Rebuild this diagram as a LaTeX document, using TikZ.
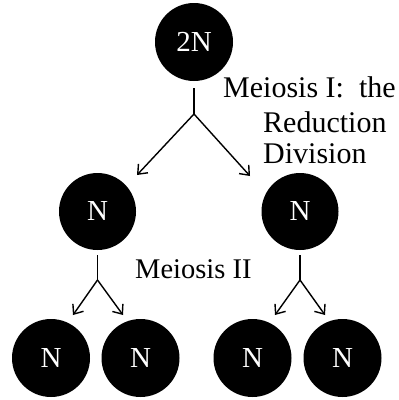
\documentclass[tikz,border=0pt]{standalone}
\usepackage{fontspec}
\setmainfont{Liberation Serif}
\usetikzlibrary{arrows.meta}
\begin{document}
\begin{tikzpicture}[x=1pt,y=-1pt,
  cell/.style={circle,fill=black,text=white,inner sep=0pt,minimum size=78pt,font=\fontsize{29}{34}\selectfont},
  lab/.style={anchor=base west,inner sep=0pt,font=\fontsize{30}{34}\selectfont},
  stem/.style={line width=1.4pt},
  arr/.style={line width=1.4pt,-{Straight Barb[length=8pt,width=13pt,line width=1.4pt]}}]
\useasboundingbox (0,0) rectangle (399,400);
% cells
\node[cell] (top) at (194,42) {2N};
\node[cell,minimum size=77pt] (m1) at (97.5,211.5) {N};
\node[cell,minimum size=77pt] (m2) at (300,211.5) {N};
\node[cell] (b1) at (51,358) {N};
\node[cell] (b2) at (140.5,358) {N};
\node[cell] (b3) at (252.5,358) {N};
\node[cell] (b4) at (342.5,358) {N};
% junctions and arrow tips
\coordinate (j1) at (194,114);
\coordinate (t1) at (137,175);
\coordinate (t2) at (250,176);
\coordinate (j2) at (97.5,280);
\coordinate (t3) at (73,315);
\coordinate (t4) at (123,315);
\coordinate (j3) at (300,280);
\coordinate (t5) at (275,315);
\coordinate (t6) at (325,315);
% connectors
\draw[stem,shorten <=7pt] (top.south) -- (j1);
\draw[arr] (j1) -- (t1);
\draw[arr] (j1) -- (t2);
\draw[stem,shorten <=5pt] (m1.south) -- (j2);
\draw[arr] (j2) -- (t3);
\draw[arr] (j2) -- (t4);
\draw[stem,shorten <=5pt] (m2.south) -- (j3);
\draw[arr] (j3) -- (t5);
\draw[arr] (j3) -- (t6);
% labels
\node[lab] (l1) at (223,97) {Meiosis I:\ \ the};
\node[lab] (l2) at (263,132) {Reduction};
\node[lab] (l3) at (263,163) {Division};
\node[lab,font=\fontsize{28.5}{34}\selectfont] (l4) at (135,278) {Meiosis II};
\end{tikzpicture}
\end{document}
